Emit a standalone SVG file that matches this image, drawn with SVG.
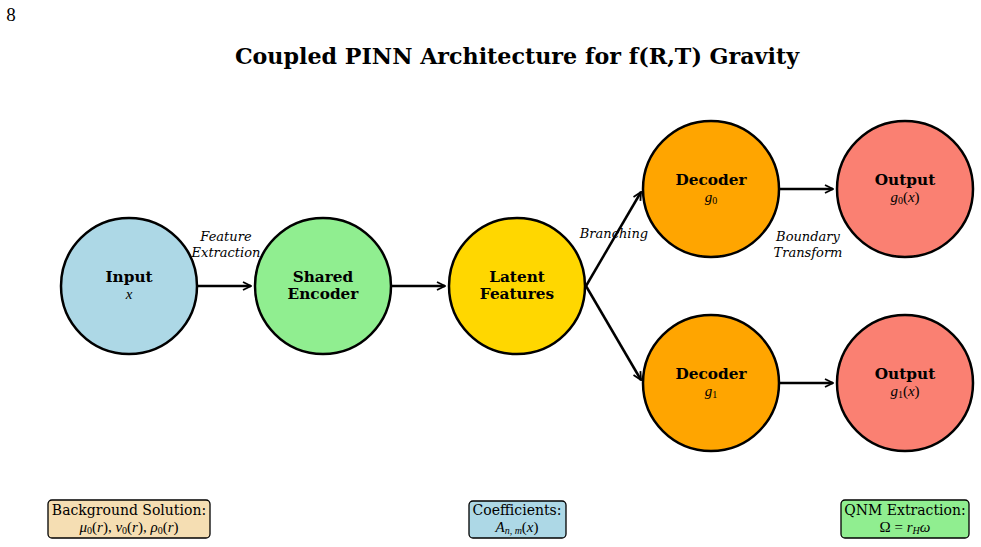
<svg xmlns="http://www.w3.org/2000/svg" width="981" height="547" viewBox="0 0 981 547">
<defs>
<marker id="ah" viewBox="0 0 10 10" refX="9" refY="5" markerWidth="10" markerHeight="10" markerUnits="userSpaceOnUse" orient="auto">
<path d="M1,1 L9,5 L1,9" fill="none" stroke="#000" stroke-width="1.8"/>
</marker>
<style>
.node{stroke:#000;stroke-width:2.5}
.nt{font-family:"DejaVu Serif",serif;font-weight:bold;font-size:15.3px;text-anchor:middle}
.m{font-family:"Liberation Serif","DejaVu Serif",serif;font-style:italic;font-size:15px;text-anchor:middle}
.lbl{font-family:"DejaVu Serif",serif;font-style:italic;font-size:13px;text-anchor:middle}
.bx{stroke:#000;stroke-width:1.3}
.bt{font-family:"DejaVu Serif",serif;font-size:14px;text-anchor:middle}
.conn{stroke:#000;stroke-width:2.5;fill:none;marker-end:url(#ah)}
</style>
</defs>
<rect width="981" height="547" fill="#fff"/>
<text x="11" y="21" font-family="Liberation Serif,serif" font-size="19" text-anchor="middle">8</text>
<text x="517" y="64" font-family="DejaVu Serif,serif" font-weight="bold" font-size="22.2" text-anchor="middle">Coupled PINN Architecture for f(R,T) Gravity</text>
<g id="connectors">
<line class="conn" x1="198" y1="286" x2="251" y2="286"/>
<line class="conn" x1="392" y1="286" x2="445" y2="286"/>
<line class="conn" x1="586" y1="286" x2="641" y2="192"/>
<line class="conn" x1="586" y1="286" x2="641" y2="380"/>
<line class="conn" x1="780" y1="189" x2="833" y2="189"/>
<line class="conn" x1="780" y1="383" x2="833" y2="383"/>
<text class="lbl" x="226" y="241">Feature</text>
<text class="lbl" x="226" y="257">Extraction</text>
<text class="lbl" x="614" y="238">Branching</text>
<text class="lbl" x="808" y="241">Boundary</text>
<text class="lbl" x="808" y="257">Transform</text>
</g>
<g id="input">
<circle class="node" cx="129" cy="286" r="68" fill="#add8e6"/>
<text class="nt" x="129" y="282">Input</text>
<text class="m" x="129" y="299">x</text>
</g>
<g id="encoder">
<circle class="node" cx="323" cy="286" r="68" fill="#90ee90"/>
<text class="nt" x="323" y="282">Shared</text>
<text class="nt" x="323" y="299">Encoder</text>
</g>
<g id="latent">
<circle class="node" cx="517" cy="286" r="68" fill="#ffd700"/>
<text class="nt" x="517" y="282">Latent</text>
<text class="nt" x="517" y="299">Features</text>
</g>
<g id="decoder0">
<circle class="node" cx="711" cy="189" r="68" fill="#ffa500"/>
<text class="nt" x="711" y="185">Decoder</text>
<text class="m" x="711" y="202">g<tspan font-style="normal" font-size="10" dy="2">0</tspan></text>
</g>
<g id="decoder1">
<circle class="node" cx="711" cy="383" r="68" fill="#ffa500"/>
<text class="nt" x="711" y="379">Decoder</text>
<text class="m" x="711" y="396">g<tspan font-style="normal" font-size="10" dy="2">1</tspan></text>
</g>
<g id="output0">
<circle class="node" cx="905" cy="189" r="68" fill="#fa8072"/>
<text class="nt" x="905" y="185">Output</text>
<text class="m" x="905" y="202">g<tspan font-style="normal" font-size="10" dy="2">0</tspan><tspan font-style="normal" dy="-2">(</tspan>x<tspan font-style="normal">)</tspan></text>
</g>
<g id="output1">
<circle class="node" cx="905" cy="383" r="68" fill="#fa8072"/>
<text class="nt" x="905" y="379">Output</text>
<text class="m" x="905" y="396">g<tspan font-style="normal" font-size="10" dy="2">1</tspan><tspan font-style="normal" dy="-2">(</tspan>x<tspan font-style="normal">)</tspan></text>
</g>
<g id="background">
<rect class="bx" x="48" y="500" width="162" height="38" rx="4" fill="#f5deb3"/>
<text class="bt" x="129" y="515">Background Solution:</text>
<text class="m" x="129" y="532">μ<tspan font-style="normal" font-size="10" dy="2">0</tspan><tspan font-style="normal" dy="-2">(</tspan>r<tspan font-style="normal">),</tspan> ν<tspan font-style="normal" font-size="10" dy="2">0</tspan><tspan font-style="normal" dy="-2">(</tspan>r<tspan font-style="normal">),</tspan> ρ<tspan font-style="normal" font-size="10" dy="2">0</tspan><tspan font-style="normal" dy="-2">(</tspan>r<tspan font-style="normal">)</tspan></text>
</g>
<g id="coefficients">
<rect class="bx" x="469" y="501" width="97" height="37" rx="4" fill="#add8e6"/>
<text class="bt" x="517" y="515">Coefficients:</text>
<text class="m" x="517" y="532">A<tspan font-size="10" dy="2">n, m</tspan><tspan font-style="normal" dy="-2">(</tspan>x<tspan font-style="normal">)</tspan></text>
</g>
<g id="qnm">
<rect class="bx" x="841" y="500" width="128" height="38" rx="4" fill="#90ee90"/>
<text class="bt" x="905" y="515">QNM Extraction:</text>
<text class="m" x="905" y="532"><tspan font-style="normal">Ω = </tspan>r<tspan font-size="10" dy="2">H</tspan><tspan dy="-2">ω</tspan></text>
</g>
</svg>
